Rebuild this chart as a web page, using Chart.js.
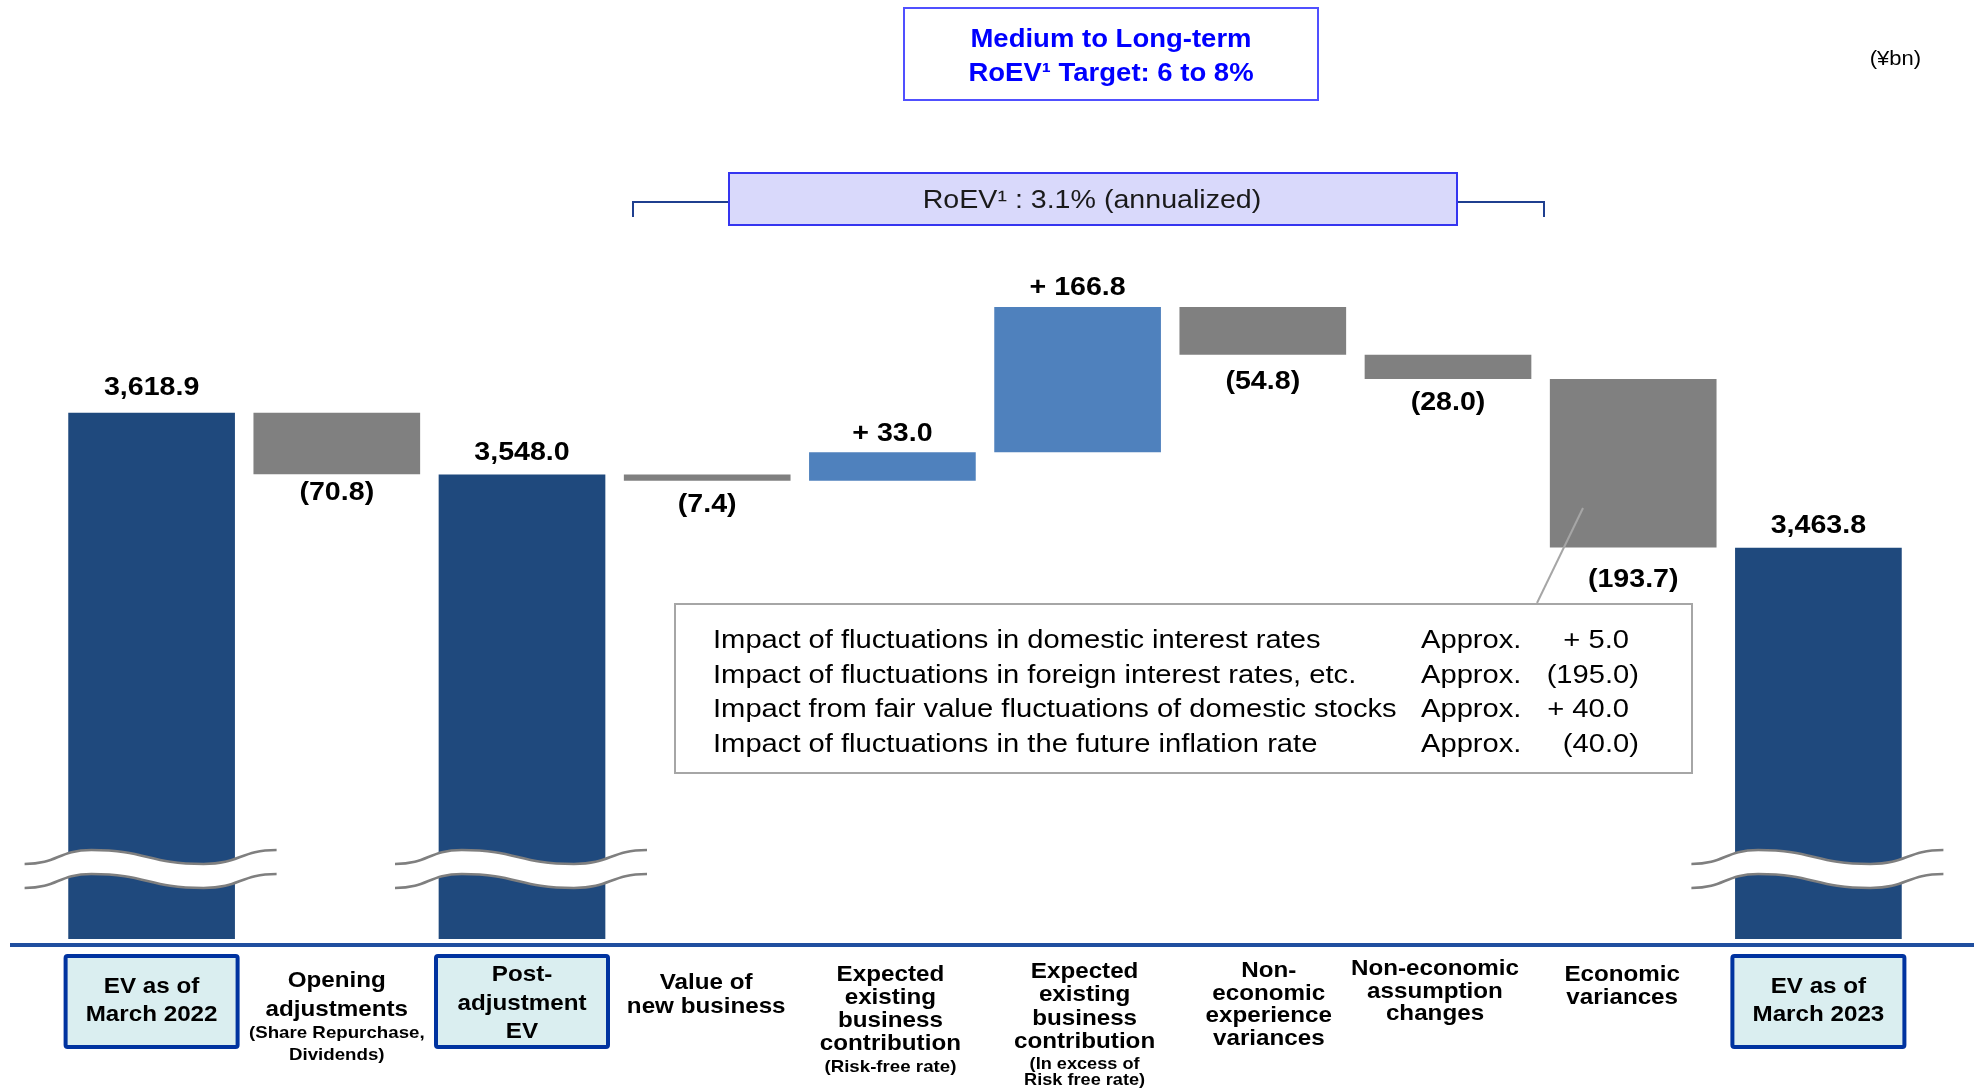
<!DOCTYPE html>
<html>
<head>
<meta charset="utf-8">
<script src="https://cdn.jsdelivr.net/npm/chart.js@4"></script>
<style>
  body { margin: 0; background: #fff; }
  #wrap { width: 1976px; height: 1088px; }
</style>
</head>
<body>
<div id="wrap"><canvas id="evChart" width="1976" height="1088"></canvas></div>
<script>
/* EV movement waterfall (¥bn) */
const categories = [
    ['EV as of', 'March 2022'],
    ['Opening', 'adjustments'],
    ['Post-', 'adjustment', 'EV'],
    ['Value of', 'new business'],
    ['Expected', 'existing', 'business', 'contribution'],
    ['Expected', 'existing', 'business', 'contribution'],
    ['Non-', 'economic', 'experience', 'variances'],
    ['Non-economic', 'assumption', 'changes'],
    ['Economic', 'variances'],
    ['EV as of', 'March 2023']
];
const subLabels = [[], ['(Share Repurchase,', 'Dividends)'], [], [], ['(Risk-free rate)'],
    ['(In excess of', 'Risk free rate)'], [], [], [], []];

// totals are levels, the rest are changes
const values = [3618.9, -70.8, 3548.0, -7.4, 33.0, 166.8, -54.8, -28.0, -193.7, 3463.8];
const kinds = ['total', 'delta', 'total', 'delta', 'delta', 'delta', 'delta', 'delta', 'delta', 'total'];

// breakdown of economic variances
const detailNames = [
    'Impact of fluctuations in domestic interest rates',
    'Impact of fluctuations in foreign interest rates, etc.',
    'Impact from fair value fluctuations of domestic stocks',
    'Impact of fluctuations in the future inflation rate'
];
const detailValues = [5.0, -195.0, 40.0, -40.0];

// broken axis: bars start here
const axisFloor = 3014;
const axisTop = 3863.4;

const FONT = '"Liberation Sans", Arial, sans-serif';
const SX = 1.1; // text in the slide is a bit wide

// build floating ranges for the waterfall
let running = 0;
const ranges = values.map((v, i) => {
    if (kinds[i] === 'total') { running = v; return [axisFloor, v]; }
    const start = running;
    running = Math.round((running + v) * 10) / 10;
    return [start, running];
});
const colors = values.map((v, i) => kinds[i] === 'total' ? '#1F497D' : (v > 0 ? '#4F81BD' : '#808080'));

function fmt(v, kind) {
    const s = Math.abs(v).toLocaleString('en-US', {minimumFractionDigits: 1, maximumFractionDigits: 1});
    if (kind === 'total') return s;
    return v < 0 ? '(' + s + ')' : '+ ' + s;
}

// draw text slightly stretched sideways
function txt(ctx, s, x, y, font, color, align) {
    ctx.save();
    ctx.font = font;
    ctx.fillStyle = color;
    ctx.textBaseline = 'middle';
    ctx.textAlign = 'left';
    const w = ctx.measureText(s).width * SX;
    const left = align === 'left' ? x : (align === 'right' ? x - w : x - w / 2);
    ctx.translate(left, y);
    ctx.scale(SX, 1);
    ctx.fillText(s, 0, 0);
    ctx.restore();
}

function wave(ctx, x0, yc, w, amp, forward) {
    const pts = [[0, amp], [0.265, -amp], [0.71, amp], [1, -amp]].map(p => [x0 + p[0] * w, yc + p[1]]);
    const seq = forward ? pts : pts.slice().reverse();
    if (forward) ctx.moveTo(seq[0][0], seq[0][1]); else ctx.lineTo(seq[0][0], seq[0][1]);
    for (let i = 1; i < seq.length; i++) {
        const a = seq[i - 1], b = seq[i], dx = (b[0] - a[0]) / 2;
        ctx.bezierCurveTo(a[0] + dx, a[1], b[0] - dx, b[1], b[0], b[1]);
    }
}

const decorPlugin = {
    id: 'decor',
    afterDraw(chart) {
        const ctx = chart.ctx;
        const meta = chart.getDatasetMeta(0);
        const xs = chart.scales.x;

        // break marks on the total bars
        meta.data.forEach((bar, i) => {
            if (kinds[i] !== 'total') return;
            const x0 = bar.x - 127, w = 252;
            ctx.save();
            ctx.beginPath();
            wave(ctx, x0, 857, w, 7, true);
            wave(ctx, x0, 881, w, 7, false);
            ctx.closePath();
            ctx.fillStyle = '#fff';
            ctx.fill();
            ctx.strokeStyle = '#7F7F7F';
            ctx.lineWidth = 2.5;
            ctx.beginPath(); wave(ctx, x0, 857, w, 7, true); ctx.stroke();
            ctx.beginPath(); wave(ctx, x0, 881, w, 7, true); ctx.stroke();
            ctx.restore();
        });

        // axis line
        ctx.save();
        ctx.strokeStyle = '#1F4E9F';
        ctx.lineWidth = 4;
        ctx.beginPath(); ctx.moveTo(10, 945); ctx.lineTo(1974, 945); ctx.stroke();
        ctx.restore();

        // value labels
        const valueGap = [25, 19, 22, 24, 18, 19, 27, 24, 32, 22];
        meta.data.forEach((bar, i) => {
            const top = Math.min(bar.y, bar.base), bottom = Math.max(bar.y, bar.base);
            const s = fmt(values[i], kinds[i]);
            const y = (kinds[i] === 'total' || values[i] > 0) ? top - valueGap[i] : bottom + valueGap[i];
            txt(ctx, s, bar.x, y, 'bold 26px ' + FONT, '#000', 'center');
        });

        // category labels
        const firstY = [987, 981, 975, 983, 975, 972, 971, 969, 975, 987];
        const gap = [28, 29, 28.5, 24, 23, 23.3, 22.7, 22.5, 23, 28];
        const dx = [0, 0, 0, -1, -2, 7, 6, -13, -11, 0];
        const subGap = [0, 22, 0, 0, 0, 16, 0, 0, 0, 0];
        const subSize = [17, 17, 17, 17, 17, 16.5, 17, 17, 17, 17];
        categories.forEach((lines, i) => {
            const cx = xs.getPixelForValue(i) + dx[i];
            if (kinds[i] === 'total') {
                ctx.save();
                ctx.fillStyle = '#DAEEF0';
                ctx.strokeStyle = '#0033A0';
                ctx.lineWidth = 4;
                ctx.beginPath();
                ctx.roundRect(cx - 86, 956, 172, 91, 2);
                ctx.fill(); ctx.stroke();
                ctx.restore();
            }
            let y = firstY[i];
            lines.forEach((ln, j) => {
                txt(ctx, ln, cx, y, 'bold 22px ' + FONT, '#000', 'center');
                if (j < lines.length - 1) y += gap[i];
            });
            y += 23;
            subLabels[i].forEach(ln => {
                txt(ctx, ln, cx, y, 'bold ' + subSize[i] + 'px ' + FONT, '#000', 'center');
                y += subGap[i];
            });
        });

        // target box
        ctx.save();
        ctx.strokeStyle = '#5050FF';
        ctx.lineWidth = 2;
        ctx.strokeRect(904, 8, 414, 92);
        ctx.restore();
        txt(ctx, 'Medium to Long-term', 1111, 40, 'bold 25px ' + FONT, '#0000FF', 'center');
        txt(ctx, 'RoEV¹ Target: 6 to 8%', 1111, 74, 'bold 25px ' + FONT, '#0000FF', 'center');
        txt(ctx, '(¥bn)', 1921, 59, '20px ' + FONT, '#000', 'right');

        // RoEV bracket and box
        ctx.save();
        ctx.strokeStyle = '#1F3F8F';
        ctx.lineWidth = 2;
        ctx.beginPath();
        ctx.moveTo(633, 217); ctx.lineTo(633, 202); ctx.lineTo(730, 202);
        ctx.moveTo(1456, 202); ctx.lineTo(1544, 202); ctx.lineTo(1544, 217);
        ctx.stroke();
        ctx.fillStyle = '#D9D9FB';
        ctx.fillRect(729, 173, 728, 52);
        ctx.strokeStyle = '#3535F0';
        ctx.strokeRect(729, 173, 728, 52);
        ctx.restore();
        txt(ctx, 'RoEV¹ : 3.1% (annualized)', 1092, 201, '26px ' + FONT, '#1a1a1a', 'center');

        // pointer to economic variances + breakdown box
        ctx.save();
        ctx.strokeStyle = '#A6A6A6';
        ctx.lineWidth = 2;
        ctx.beginPath(); ctx.moveTo(1583, 508); ctx.lineTo(1537, 603); ctx.stroke();
        ctx.fillStyle = '#fff';
        ctx.fillRect(675, 604, 1017, 169);
        ctx.strokeRect(675, 604, 1017, 169);
        ctx.restore();
        const rowY = [641, 676, 710, 745];
        detailNames.forEach((name, i) => {
            const f = '26.5px ' + FONT;
            txt(ctx, name, 713, rowY[i], f, '#000', 'left');
            txt(ctx, 'Approx.', 1421, rowY[i], f, '#000', 'left');
            const v = detailValues[i];
            txt(ctx, v < 0 ? '(' + Math.abs(v).toFixed(1) + ')' : '+ ' + v.toFixed(1),
                v < 0 ? 1639 : 1629, rowY[i], f, '#000', 'right');
        });
    }
};

new Chart(document.getElementById('evChart').getContext('2d'), {
    type: 'bar',
    data: {
        labels: categories.map(c => c.join(' ')),
        datasets: [{
            data: ranges,
            backgroundColor: colors,
            borderWidth: 0,
            barPercentage: 0.9,
            categoryPercentage: 1.0
        }]
    },
    options: {
        responsive: false,
        devicePixelRatio: 1,
        animation: false,
        layout: { padding: { left: 59, right: 65, top: 200, bottom: 149 } },
        plugins: { legend: { display: false }, tooltip: { enabled: false } },
        scales: {
            x: { display: false },
            y: { display: false, min: axisFloor, max: axisTop }
        }
    },
    plugins: [decorPlugin]
});
</script>
</body>
</html>
